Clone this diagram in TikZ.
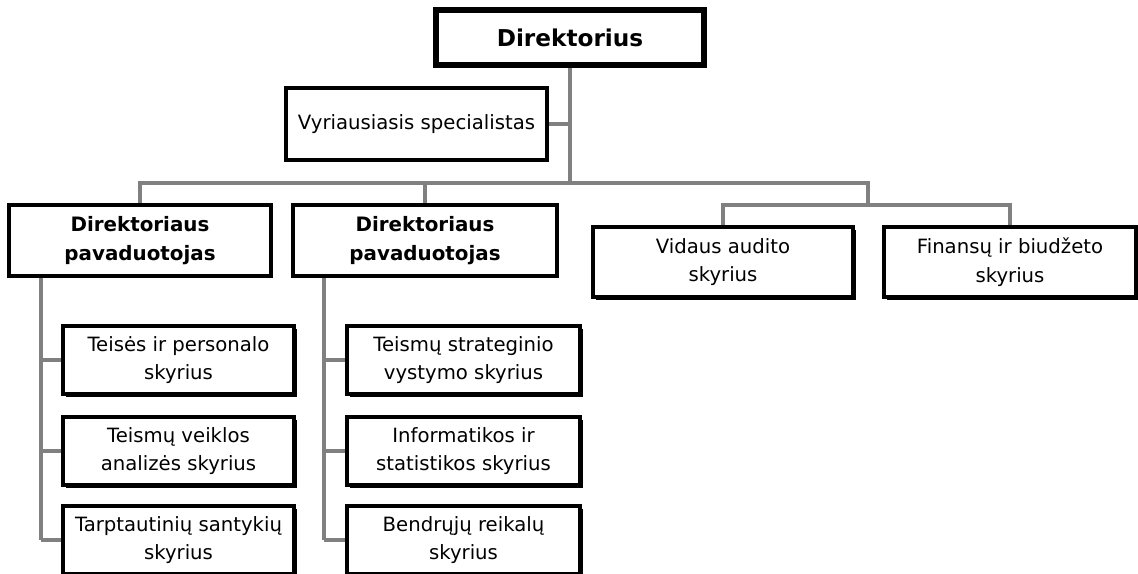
\documentclass[tikz,border=0pt]{standalone}
\usepackage{fontspec}
\setmainfont{DejaVu Sans}
\usetikzlibrary{shadows}

\begin{document}
\begin{tikzpicture}[x=0.02cm, y=-0.02cm,
	box/.style={draw, line width=2pt, fill=white, inner sep=0pt, align=center,
		font=\fontsize{11.2}{16.4}\selectfont},
	headbox/.style={box, font=\fontsize{11.3}{16.4}\selectfont\bfseries},
	unitbox/.style={box, drop shadow={shadow xshift=0.06cm, shadow yshift=-0.06cm, opacity=1, fill=black}},
	link/.style={draw=black!50, line width=1.8pt}]
	\useasboundingbox (0,0) rectangle (1138,574);

	%Top:
	\node (dir) at (570,37.5) [box, line width=3pt, minimum width=5.36cm, minimum height=1.1cm,
		font=\fontsize{13.2}{16}\selectfont\bfseries] {Direktorius};
	\node (vyr) at (416.5,124) [box, minimum width=5.22cm, minimum height=1.44cm] {Vyriausiasis specialistas};

	\node (dp1) at (140,240.5) [headbox, minimum width=5.24cm, minimum height=1.42cm] {Direktoriaus\\pavaduotojas};
	\node (dp2) at (425,240.5) [headbox, minimum width=5.28cm, minimum height=1.42cm] {Direktoriaus\\pavaduotojas};
	\node (vid) at (723,262) [unitbox, minimum width=5.2cm, minimum height=1.4cm] {Vidaus audito\\skyrius};
	\node (fin) at (1010,262) [unitbox, minimum width=5.04cm, minimum height=1.4cm] {Finansų ir biudžeto\\skyrius};

	\coordinate (bus) at (570,183);
	\coordinate (busR) at (868,183);
	\coordinate (sub) at (868,205);
	\draw [link] (dir.south) -- (bus);
	\draw [link] (vyr.east) -- (vyr.east -| bus);
	\draw [link] (dp1.north) |- (busR) -- (sub);
	\draw [link] (dp2.north) -- (dp2.north |- bus);
	\draw [link] (vid.north) |- (sub) -| (fin.north);

	%Departments:
	\node (a1) at (178.5,360) [unitbox, minimum width=4.62cm, minimum height=1.36cm] {Teisės ir personalo\\skyrius};
	\node (a2) at (178.5,451) [unitbox, minimum width=4.62cm, minimum height=1.36cm] {Teismų veiklos\\analizės skyrius};
	\node (a3) at (178.5,540) [unitbox, minimum width=4.62cm, minimum height=1.36cm] {Tarptautinių santykių\\skyrius};

	\node (b1) at (463.5,360) [unitbox, minimum width=4.66cm, minimum height=1.36cm] {Teismų strateginio\\vystymo skyrius};
	\node (b2) at (463.5,451) [unitbox, minimum width=4.66cm, minimum height=1.36cm] {Informatikos ir\\statistikos skyrius};
	\node (b3) at (463.5,540) [unitbox, minimum width=4.66cm, minimum height=1.36cm] {Bendrųjų reikalų\\skyrius};

	\coordinate (spineA) at (41,276);
	\coordinate (spineB) at (324,276);
	\draw [link] (spineA |- dp1.south) -- (spineA |- a3.west);
	\draw [link] (spineB |- dp2.south) -- (spineB |- b3.west);
	\foreach \n in {a1,a2,a3}
		\draw [link] (\n.west) -- (spineA |- \n.west);
	\foreach \n in {b1,b2,b3}
		\draw [link] (\n.west) -- (spineB |- \n.west);

\end{tikzpicture}
\end{document}
